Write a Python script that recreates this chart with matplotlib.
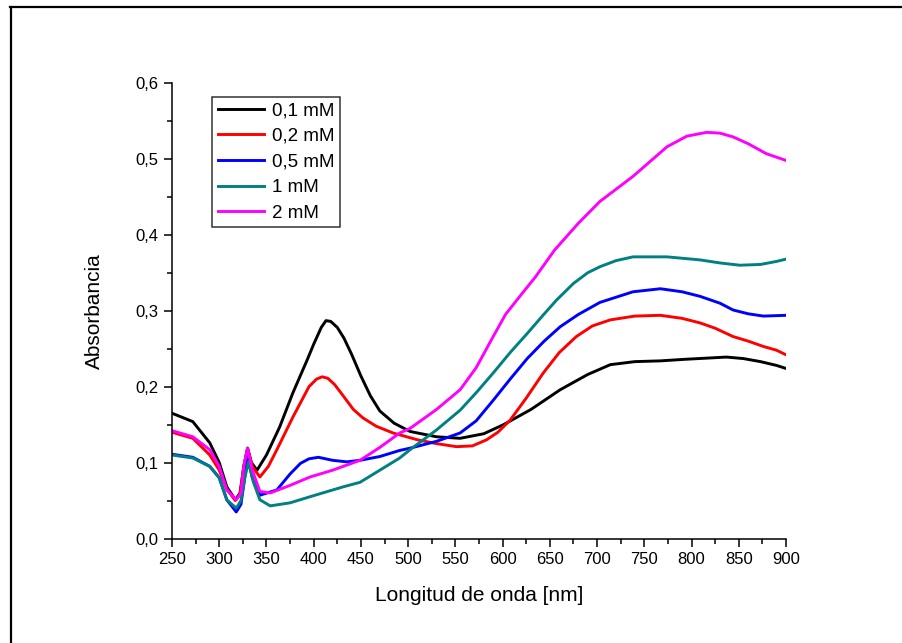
import matplotlib
matplotlib.use('Agg')
import matplotlib.pyplot as plt
from matplotlib.lines import Line2D
from matplotlib.ticker import MultipleLocator, FuncFormatter

plt.rcParams['font.family'] = ['Liberation Sans', 'DejaVu Sans']

# valores: longitud de onda (nm) y absorbancia
wl_01 = [250, 272, 290, 300, 308, 317, 322, 326, 330, 334, 340, 350, 364, 378, 393, 400, 408, 413, 418,
         425, 432, 440, 450, 460, 470, 485, 502, 530, 555, 580, 601, 630, 661, 690, 714, 740, 767, 792,
         837, 855, 873, 890, 900]
abs_01 = [0.165, 0.154, 0.126, 0.1, 0.068, 0.051, 0.06, 0.095, 0.119, 0.1, 0.09, 0.11, 0.147, 0.192,
          0.235, 0.256, 0.278, 0.287, 0.286, 0.278, 0.264, 0.243, 0.214, 0.188, 0.168, 0.152, 0.141, 0.134,
          0.132, 0.138, 0.15, 0.17, 0.196, 0.216, 0.229, 0.233, 0.234, 0.236, 0.239, 0.237, 0.233, 0.228,
          0.224]

wl_02 = [250, 272, 290, 300, 308, 317, 322, 326, 330, 335, 343, 352, 361, 378, 395, 403, 409, 415, 422,
         430, 442, 452, 466, 484, 510, 530, 551, 568, 583, 595, 608, 625, 643, 660, 678, 695, 714, 740,
         767, 790, 809, 825, 844, 860, 876, 890, 900]
abs_02 = [0.14, 0.132, 0.11, 0.09, 0.065, 0.05, 0.058, 0.095, 0.119, 0.095, 0.081, 0.095, 0.117, 0.16,
          0.2, 0.21, 0.213, 0.211, 0.203, 0.19, 0.17, 0.159, 0.148, 0.139, 0.13, 0.125, 0.121, 0.122, 0.13,
          0.14, 0.156, 0.185, 0.218, 0.245, 0.266, 0.28, 0.288, 0.293, 0.294, 0.29, 0.284, 0.277, 0.266,
          0.26, 0.253, 0.248, 0.242]

wl_05 = [250, 272, 290, 300, 308, 318, 323, 327, 330, 335, 343, 361, 375, 386, 395, 405, 420, 435, 449,
         470, 491, 502, 530, 555, 572, 590, 608, 626, 644, 661, 680, 703, 738, 767, 790, 809, 830, 844,
         860, 876, 900]
abs_05 = [0.111, 0.107, 0.095, 0.08, 0.051, 0.035, 0.045, 0.08, 0.108, 0.08, 0.057, 0.064, 0.085, 0.099,
          0.105, 0.107, 0.103, 0.101, 0.103, 0.108, 0.116, 0.119, 0.128, 0.139, 0.155, 0.182, 0.21, 0.237,
          0.26, 0.279, 0.295, 0.311, 0.325, 0.329, 0.325, 0.319, 0.31, 0.301, 0.296, 0.293, 0.294]

wl_1 = [250, 272, 290, 300, 308, 318, 323, 327, 331, 336, 343, 354, 375, 396, 431, 449, 470, 491, 502,
        530, 555, 572, 590, 608, 626, 642, 657, 675, 690, 703, 720, 738, 774, 809, 830, 851, 873, 890, 900]
abs_1 = [0.11, 0.106, 0.095, 0.08, 0.051, 0.04, 0.05, 0.08, 0.101, 0.075, 0.051, 0.043, 0.047, 0.055,
         0.068, 0.074, 0.09, 0.106, 0.117, 0.143, 0.169, 0.192, 0.218, 0.245, 0.27, 0.293, 0.314, 0.336,
         0.35, 0.358, 0.366, 0.371, 0.371, 0.367, 0.363, 0.36, 0.361, 0.365, 0.368]

wl_2 = [250, 272, 290, 300, 308, 318, 323, 326, 330, 335, 343, 354, 375, 396, 420, 449, 470, 491, 502,
        530, 555, 572, 590, 603, 615, 635, 655, 680, 703, 738, 774, 795, 816, 830, 844, 860, 879, 900]
abs_2 = [0.142, 0.134, 0.117, 0.095, 0.064, 0.051, 0.06, 0.095, 0.119, 0.09, 0.062, 0.06, 0.07, 0.081,
         0.09, 0.103, 0.12, 0.139, 0.145, 0.17, 0.196, 0.225, 0.266, 0.295, 0.314, 0.345, 0.38, 0.415,
         0.444, 0.477, 0.516, 0.53, 0.535, 0.534, 0.529, 0.52, 0.507, 0.498]

labels = ['0,1 mM', '0,2 mM', '0,5 mM', '1 mM', '2 mM']
colors = ['#000000', '#ff0000', '#0000ff', '#008080', '#ff00ff']
series = [(wl_01, abs_01), (wl_02, abs_02), (wl_05, abs_05), (wl_1, abs_1), (wl_2, abs_2)]

fig = plt.figure(figsize=(9.02, 6.43), dpi=100)
ax = fig.add_axes([0.1907, 0.1625, 0.6807, 0.7084])

for (x, y), lab, c in zip(series, labels, colors):
    ax.plot(x, y, color=c, lw=2.1, label=lab, solid_joinstyle='round')

ax.set_xlim(250, 900)
ax.set_ylim(0, 0.6)
ax.xaxis.set_major_locator(MultipleLocator(50))
ax.xaxis.set_minor_locator(MultipleLocator(25))
ax.yaxis.set_major_locator(MultipleLocator(0.1))
ax.yaxis.set_minor_locator(MultipleLocator(0.05))
ax.yaxis.set_major_formatter(FuncFormatter(lambda v, p: ('%.1f' % v).replace('.', ',')))

ax.spines['top'].set_visible(False)
ax.spines['right'].set_visible(False)
for s in ['left', 'bottom']:
    ax.spines[s].set_linewidth(1.1)
ax.tick_params(which='major', direction='out', length=6, width=1.1, labelsize=12)
ax.tick_params(which='minor', direction='out', length=3.5, width=1.1)

ax.set_xlabel('Longitud de onda [nm]', fontsize=15, labelpad=14)
ax.set_ylabel('Absorbancia', fontsize=15, labelpad=23)

leg = ax.legend(loc='upper left', bbox_to_anchor=(0.065, 0.97), fontsize=13.5, frameon=True,
                fancybox=False, handlelength=2.5, handletextpad=0.4, labelspacing=0.45,
                borderpad=0.3, borderaxespad=0)
leg.get_frame().set_edgecolor('black')
leg.get_frame().set_linewidth(1.1)

# marco recortado alrededor de la figura
fig.add_artist(Line2D([0.011, 1.0], [0.9895, 0.9895], color='black', lw=1.6, transform=fig.transFigure))
fig.add_artist(Line2D([0.0122, 0.0122], [0.0, 0.9895], color='black', lw=1.6, transform=fig.transFigure))

fig.savefig('out.png', dpi=100)
